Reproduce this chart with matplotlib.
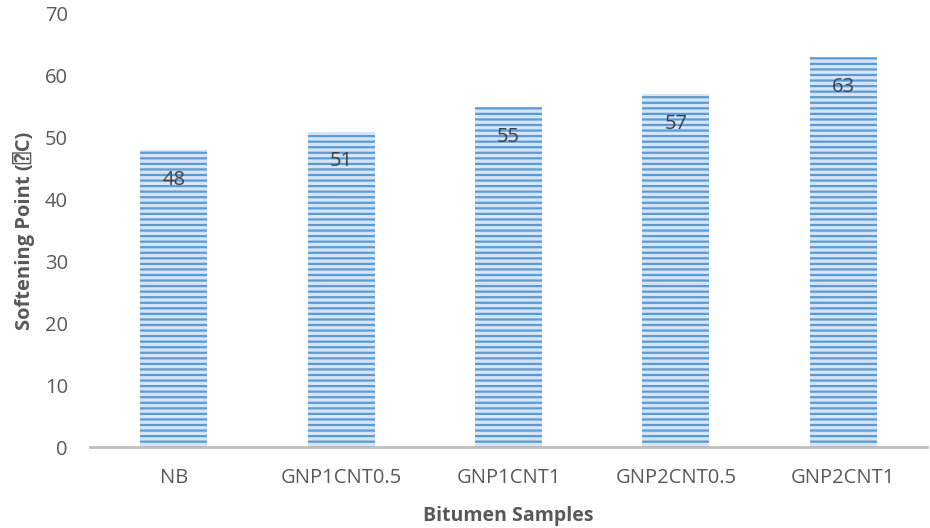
import matplotlib
matplotlib.use("Agg")
import matplotlib.pyplot as plt

categories = ["NB", "GNP1CNT0.5", "GNP1CNT1", "GNP2CNT0.5", "GNP2CNT1"]
softening_point = [48, 51, 55, 57, 63]
y_ticks = [0, 10, 20, 30, 40, 50, 60, 70]

plt.rcParams['font.family'] = ['Open Sans', 'DejaVu Sans', 'DejaVu Sans Mono']
plt.rcParams['hatch.linewidth'] = 1.6

fig = plt.figure(figsize=(9.3, 5.28), dpi=100)
ax = fig.add_axes([0.0968, 0.1534, 0.9, 0.8201])

x = list(range(len(categories)))
ax.bar(x, softening_point, width=0.4, color='#D6E5F5', edgecolor='#5B9BD5',
       linewidth=0, hatch='---', zorder=2)

# value labels sit just inside the top of each bar
for xi, v in zip(x, softening_point):
    ax.annotate(str(v), (xi, v), xytext=(0, -21.5), textcoords='offset points',
                ha='center', va='center', fontsize=14.5, color='#404040', zorder=3)

ax.set_xlim(-0.5, 4.5)
ax.set_ylim(0, 70)
ax.set_yticks(y_ticks)
ax.set_xticks(x)
ax.set_xticklabels(categories)
ax.tick_params(axis='both', length=0, labelsize=14.5, colors='#595959')
ax.tick_params(axis='y', pad=16)
ax.tick_params(axis='x', pad=15)

for s in ['top', 'right', 'left']:
    ax.spines[s].set_visible(False)
ax.spines['bottom'].set_color('#BFBFBF')
ax.spines['bottom'].set_linewidth(2)

ax.set_xlabel("Bitumen Samples", fontsize=14, fontweight='bold', color='#595959', labelpad=13)
ax.set_ylabel("Softening Point (\u2370C)", fontsize=14.5, fontweight='bold', color='#595959', labelpad=7)

fig.savefig("out.png", dpi=100)
